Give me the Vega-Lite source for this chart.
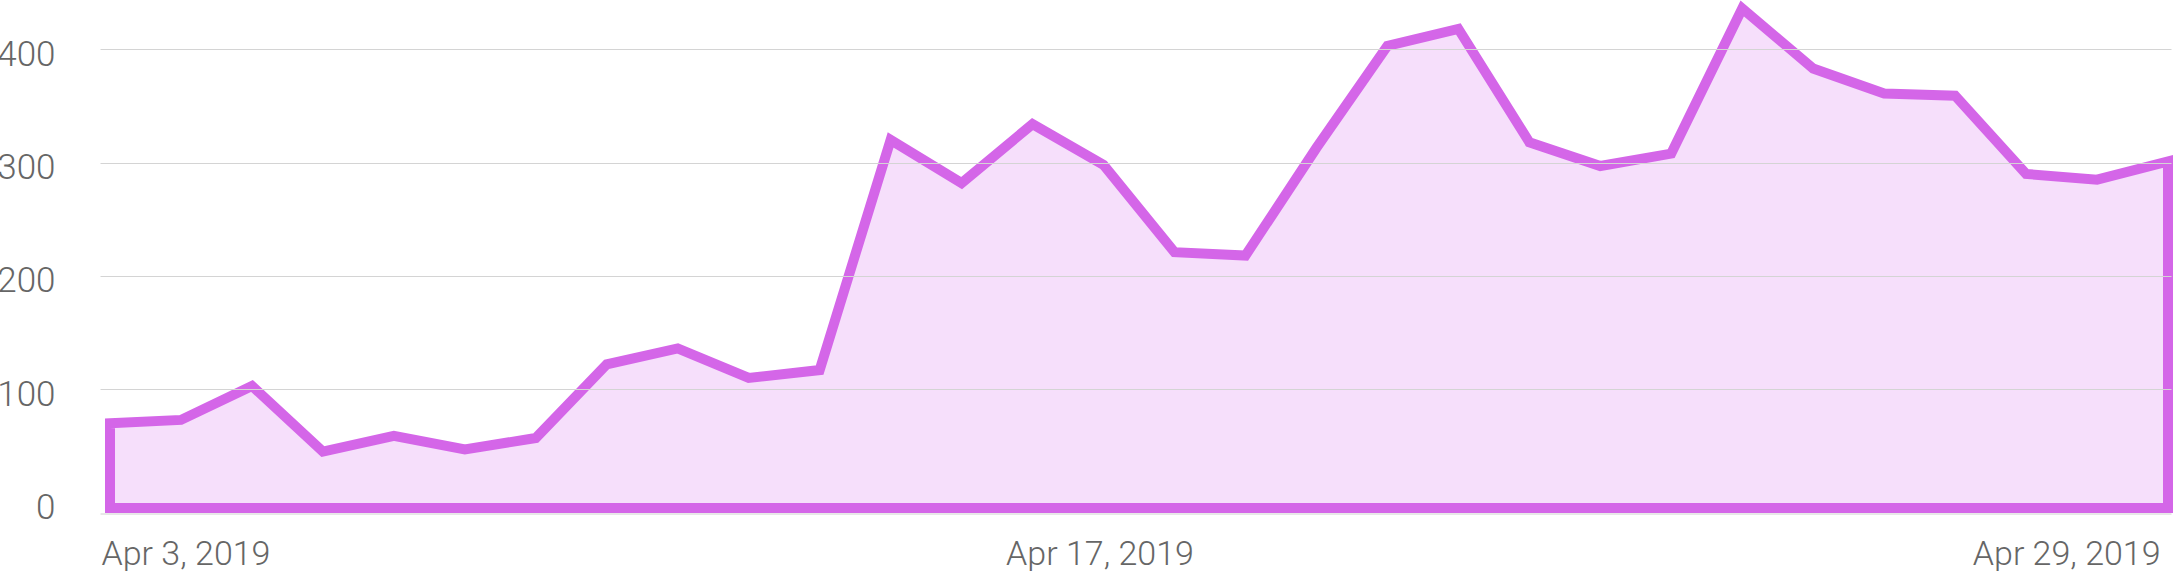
{
  "$schema": "https://vega.github.io/schema/vega-lite/v6.json",
  "width": 2071,
  "height": 513.5,
  "autosize": {"type": "none"},
  "padding": {"left": 100, "top": 0, "right": 3, "bottom": 57.5},
  "background": "white",
  "view": {"stroke": null},
  "config": {"font": "Roboto"},
  "data": {
    "values": [
      {"date": "2019-04-03T00:00:00", "value": 70},
      {"date": "2019-04-04T00:00:00", "value": 73},
      {"date": "2019-04-05T00:00:00", "value": 103},
      {"date": "2019-04-06T00:00:00", "value": 45},
      {"date": "2019-04-07T00:00:00", "value": 59},
      {"date": "2019-04-08T00:00:00", "value": 47},
      {"date": "2019-04-09T00:00:00", "value": 57},
      {"date": "2019-04-10T00:00:00", "value": 122},
      {"date": "2019-04-11T00:00:00", "value": 136},
      {"date": "2019-04-12T00:00:00", "value": 110},
      {"date": "2019-04-13T00:00:00", "value": 117},
      {"date": "2019-04-14T00:00:00", "value": 320},
      {"date": "2019-04-15T00:00:00", "value": 282},
      {"date": "2019-04-16T00:00:00", "value": 334},
      {"date": "2019-04-17T00:00:00", "value": 298},
      {"date": "2019-04-18T00:00:00", "value": 221},
      {"date": "2019-04-19T00:00:00", "value": 218},
      {"date": "2019-04-20T00:00:00", "value": 313},
      {"date": "2019-04-21T00:00:00", "value": 403},
      {"date": "2019-04-22T00:00:00", "value": 418},
      {"date": "2019-04-23T00:00:00", "value": 318},
      {"date": "2019-04-24T00:00:00", "value": 297},
      {"date": "2019-04-25T00:00:00", "value": 308},
      {"date": "2019-04-26T00:00:00", "value": 436},
      {"date": "2019-04-27T00:00:00", "value": 383},
      {"date": "2019-04-28T00:00:00", "value": 361},
      {"date": "2019-04-29T00:00:00", "value": 359},
      {"date": "2019-04-30T00:00:00", "value": 290},
      {"date": "2019-05-01T00:00:00", "value": 285},
      {"date": "2019-05-02T00:00:00", "value": 301}
    ]
  },
  "mark": {
    "type": "area",
    "fill": "#f6dffb",
    "stroke": "#d466e8",
    "strokeWidth": 10,
    "strokeJoin": "miter",
    "strokeMiterLimit": 10,
    "line": false,
    "clip": false
  },
  "encoding": {
    "x": {
      "field": "date",
      "type": "temporal",
      "scale": {
        "domain": [
          {"year": 2019, "month": 4, "date": 2, "hours": 20, "minutes": 37},
          {"year": 2019, "month": 5, "date": 2, "hours": 1, "minutes": 1}
        ]
      },
      "axis": {
        "title": null,
        "values": [
          {"year": 2019, "month": 4, "date": 3},
          {"year": 2019, "month": 4, "date": 17},
          {"year": 2019, "month": 4, "date": 29}
        ],
        "format": "%b %-d, %Y",
        "grid": false,
        "ticks": false,
        "tickSize": 0,
        "domain": true,
        "domainColor": "#d0d0d0",
        "domainWidth": 1,
        "labelFont": "Roboto",
        "labelFontWeight": 300,
        "labelFontSize": 34,
        "labelColor": "#666666",
        "labelPadding": 24,
        "labelLimit": 0,
        "labelOverlap": false,
        "labelFlush": false,
        "labelAlign": {
          "condition": [
            {"test": "date(datum.value) == 3", "value": "left"},
            {"test": "date(datum.value) == 29", "value": "right"}
          ],
          "value": "center"
        },
        "labelOffset": {
          "condition": [
            {"test": "date(datum.value) == 3", "value": -9},
            {"test": "date(datum.value) == 29", "value": 205}
          ],
          "value": -4
        },
        "zindex": 1
      }
    },
    "y": {
      "field": "value",
      "type": "quantitative",
      "scale": {"domain": [-9.6, 443.5], "nice": false, "zero": false},
      "axis": {
        "title": null,
        "values": [0, 100, 200, 300, 400],
        "domain": false,
        "ticks": false,
        "tickSize": 0,
        "grid": true,
        "gridColor": "#d4d4d4",
        "gridWidth": 1,
        "gridOpacity": {"condition": {"test": "datum.value == 0", "value": 0}, "value": 1},
        "labelFont": "Roboto",
        "labelFontWeight": 300,
        "labelFontSize": 35,
        "labelColor": "#666666",
        "labelPadding": 45,
        "labelLimit": 0,
        "labelBaseline": "alphabetic",
        "labelOffset": 16,
        "zindex": 1
      }
    },
    "y2": {"datum": -4.8}
  }
}
